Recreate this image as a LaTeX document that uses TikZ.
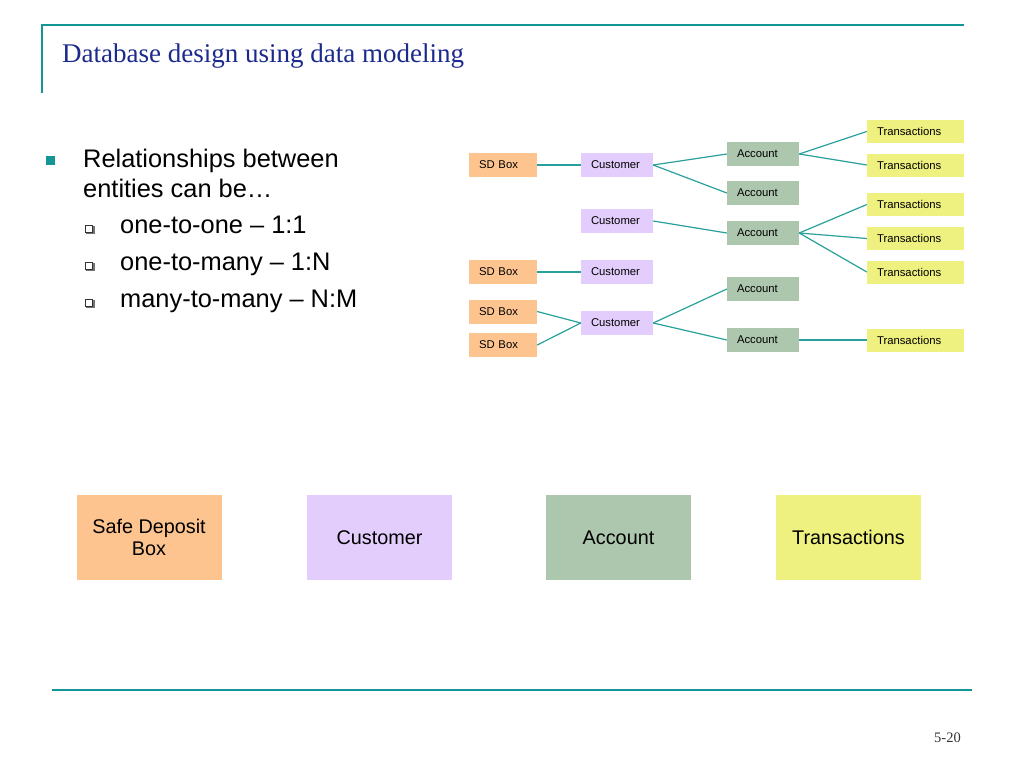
\documentclass[tikz,border=0pt]{standalone}
\usepackage{fontspec}
\setmainfont{Liberation Serif}
\newfontfamily\arial{Liberation Sans}
\definecolor{teal1}{RGB}{20,150,150}
\definecolor{lnk}{RGB}{40,160,155}
\definecolor{titleblue}{RGB}{28,42,140}
\definecolor{sdc}{RGB}{253,196,143}
\definecolor{cuc}{RGB}{227,205,253}
\definecolor{acc}{RGB}{173,199,174}
\definecolor{trc}{RGB}{238,240,128}
\begin{document}
\begin{tikzpicture}[x=1pt,y=-1pt,
  sbox/.style={inner xsep=10pt, inner ysep=0pt, minimum height=24pt, anchor=center,
     font=\arial\fontsize{11.3}{13}\selectfont, align=left},
  sdbox/.style={sbox, fill=sdc, text width=48pt},
  cubox/.style={sbox, fill=cuc, text width=52pt},
  acbox/.style={sbox, fill=acc, text width=52pt},
  trbox/.style={sbox, fill=trc, text width=77pt, minimum height=23pt},
  big/.style={minimum width=145pt, minimum height=85pt, inner sep=0pt, anchor=center,
     font=\arial\fontsize{19.8}{22}\selectfont, align=center},
  link/.style={draw=lnk, line width=1.2pt},
  frame/.style={draw=teal1, line width=2pt},
  btxt/.style={anchor=base west, inner sep=0pt, font=\arial\fontsize{25.4}{30}\selectfont},
  hollow/.style={draw=black!80, line width=0.7pt, fill=white, minimum size=7.5pt, inner sep=0pt, anchor=north west}
]
\useasboundingbox (0,0) rectangle (1024,768);
% frame
\draw[frame] (42,93) -- (42,25) -- (964,25);
\draw[draw=teal1, line width=2.5pt] (52,690) -- (972,690);
% title
\node[anchor=base west, inner sep=0pt, text=titleblue, font=\fontsize{27}{30}\selectfont] (title) at (62,63) {Database design using data modeling};
% page number
\node[anchor=base east, inner sep=0pt, font=\fontsize{14.5}{16}\selectfont, text=black!80] (pg) at (961,742) {5-20};
% bullets
\node[fill=teal1, minimum size=9.5pt, inner sep=0pt, anchor=north west] (b0) at (45.5,155.5) {};
\node[btxt] (t0) at (83,167) {Relationships between};
\node[btxt] (t0b) at (83,197.5) {entities can be…};
\foreach \yy/\nm/\txt in {233/s1/{one-to-one – 1:1}, 270/s2/{one-to-many – 1:N}, 307/s3/{many-to-many – N:M}}{
  \fill[black!55] (86,\yy-7) rectangle (95,\yy+1);
  \node[hollow] (\nm b) at (84.5,\yy-8.5) {};
  \node[btxt] (\nm) at (120,\yy) {\txt};
}
% small diagram
\node[sdbox] (sd1) at (503,165) {SD Box};
\node[sdbox] (sd2) at (503,272) {SD Box};
\node[sdbox] (sd3) at (503,311.5) {SD Box};
\node[sdbox] (sd4) at (503,345) {SD Box};
\node[cubox] (c1) at (617,165) {Customer};
\node[cubox] (c2) at (617,221) {Customer};
\node[cubox] (c3) at (617,272) {Customer};
\node[cubox] (c4) at (617,323) {Customer};
\node[acbox] (a1) at (763,154) {Account};
\node[acbox] (a2) at (763,193) {Account};
\node[acbox] (a3) at (763,233) {Account};
\node[acbox] (a4) at (763,289) {Account};
\node[acbox] (a5) at (763,340) {Account};
\node[trbox] (t1) at (915.5,131.5) {Transactions};
\node[trbox] (t2) at (915.5,165) {Transactions};
\node[trbox] (t3) at (915.5,204.5) {Transactions};
\node[trbox] (t4) at (915.5,238.5) {Transactions};
\node[trbox] (t5) at (915.5,272) {Transactions};
\node[trbox] (t6) at (915.5,340) {Transactions};
\draw[link] (sd1.east) -- (c1.west);
\draw[link] (c1.east) -- (a1.west);
\draw[link] (c1.east) -- (a2.west);
\draw[link] (a1.east) -- (t1.west);
\draw[link] (a1.east) -- (t2.west);
\draw[link] (c2.east) -- (a3.west);
\draw[link] (a3.east) -- (t3.west);
\draw[link] (a3.east) -- (t4.west);
\draw[link] (a3.east) -- (t5.west);
\draw[link] (sd2.east) -- (c3.west);
\draw[link] (sd3.east) -- (c4.west);
\draw[link] (sd4.east) -- (c4.west);
\draw[link] (c4.east) -- (a4.west);
\draw[link] (c4.east) -- (a5.west);
\draw[link] (a5.east) -- (t6.west);
% big boxes
\node[big, fill=sdc] (bsd) at (149,537.5) {Safe Deposit\\Box};
\node[big, fill=cuc] (bcu) at (379.5,537.5) {Customer};
\node[big, fill=acc] (bac) at (618.5,537.5) {Account};
\node[big, fill=trc] (btr) at (848.5,537.5) {Transactions};
\end{tikzpicture}
\end{document}
